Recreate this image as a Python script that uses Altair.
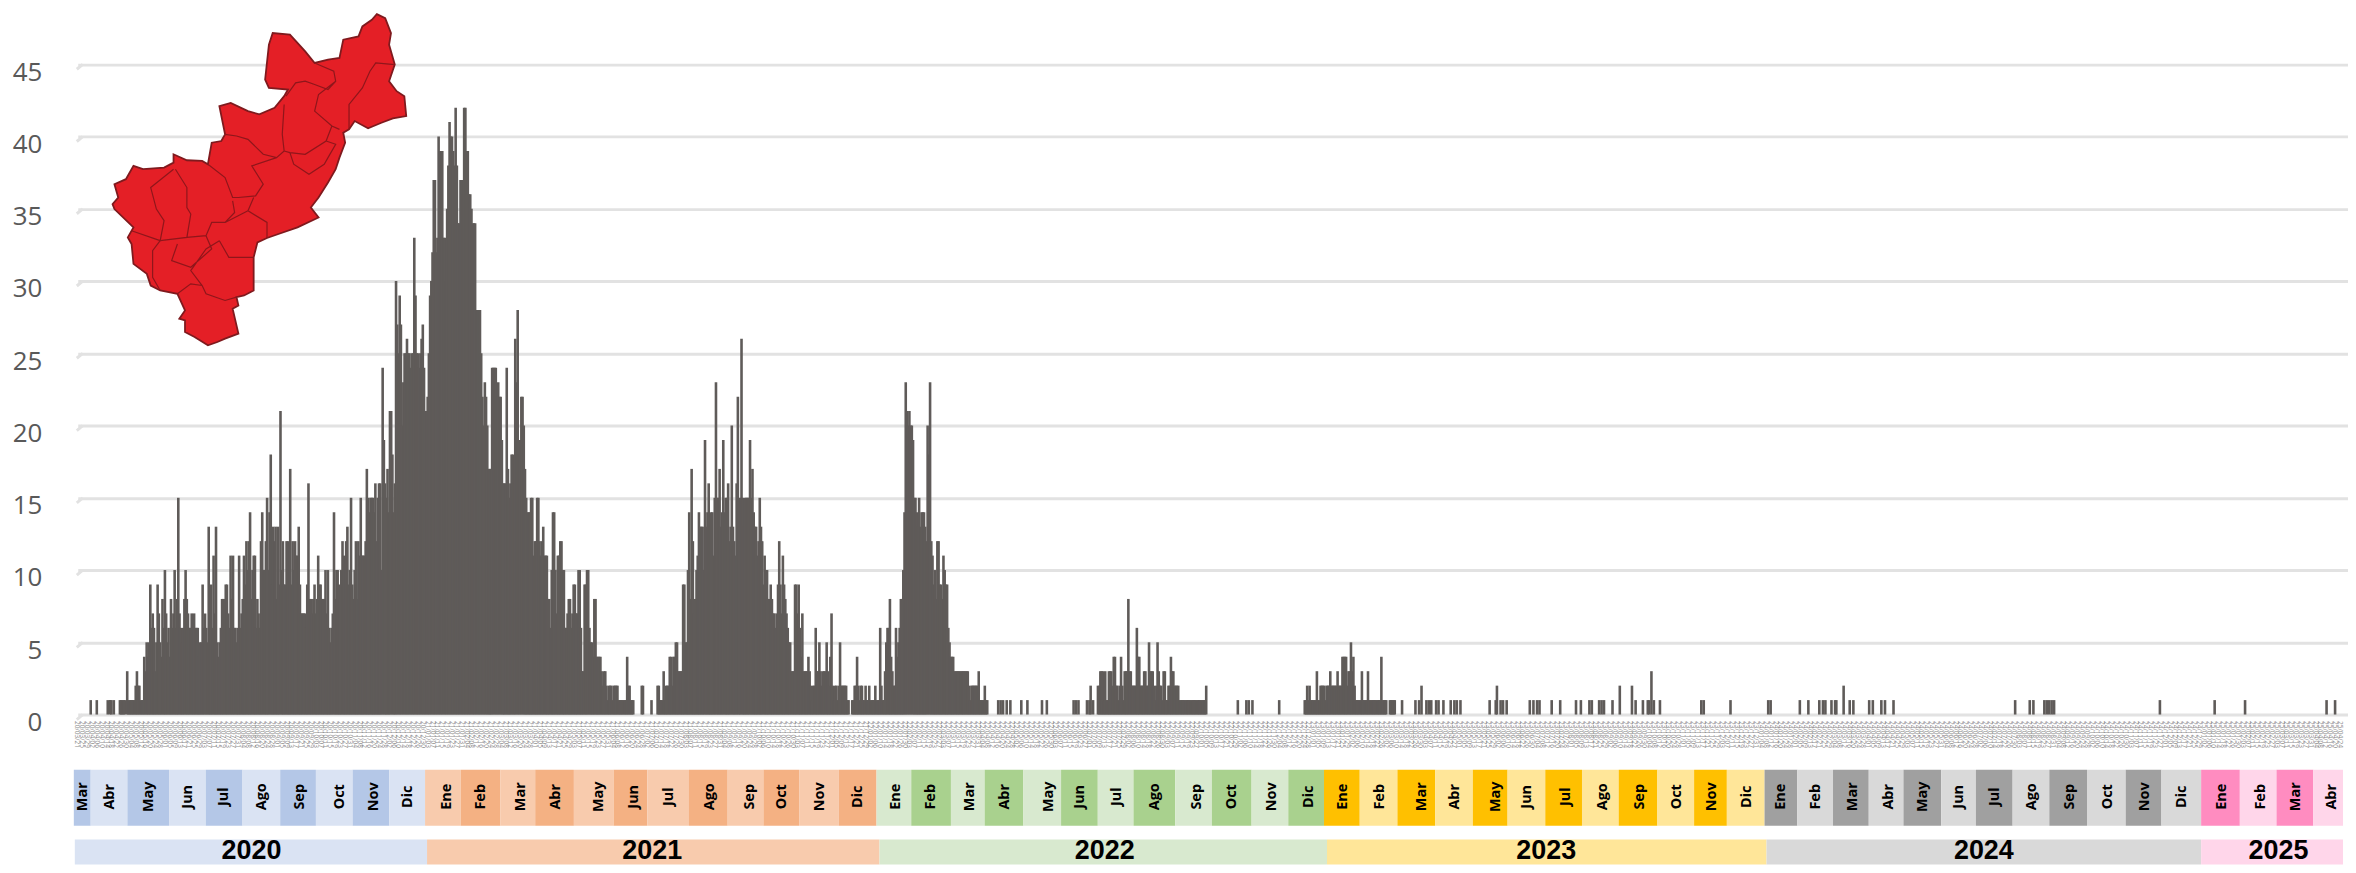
import altair as alt
import numpy as np
import pandas as pd

# ---- daily case counts (day 0 = 2020-03-23) ----
cases_000 = [0,0,0,0,0,0,0,0,0,1, 0,0,0,0,1,0,0,0,0,0, 0,0,0,1,0,1,1,0,1,0, 0,0,0,1,1,1,1,1,0,3,
             1,1,1,1,1,1,2,3,2,2, 1,1,1,4,3,5,4,5,9,6, 7,6,3,5,9,7,5,4,8,6, 10,7,5,6,4,8,6,7,10,6,
             8,15,7,6,5,6,8,10,8,7, 6,6,7,6,7,6,6,6,4,5]
cases_100 = [5,9,6,7,6,5,13,7,9,6, 11,7,13,5,4,5,6,8,8,8, 9,9,7,6,11,8,11,6,6,5, 6,11,6,7,8,11,9,12,10,12,
             14,8,10,11,11,6,8,7,6,12, 14,10,10,12,15,10,14,18,9,13, 12,13,8,13,9,21,10,12,9,9,
             12,12,10,17,9,12,10,12,11,11, 13,9,7,7,7,7,6,9,16,8, 8,7,8,9,7,8,11,9,9,8]
cases_200 = [8,8,10,7,10,6,5,6,7,14, 8,10,10,9,8,10,12,11,8,12, 13,9,10,15,9,8,10,12,8,12, 11,15,11,11,11,12,17,15,14,15,
             15,15,14,16,12,15,16,16,10,24, 19,16,15,17,14,21,21,18,14,16, 30,27,25,29,27,20,23,25,25,26,
             25,25,24,25,25,33,29,25,25,24, 25,26,27,24,21,21,22,25,29,30, 32,37,37,32,33,40,39,38,39,33]
cases_300 = [33,30,35,38,41,40,40,39,38,42, 38,34,34,37,37,36,42,42,39,39, 36,36,35,34,34,34,28,28,28,28,
             25,22,20,23,22,20,17,17,17,24, 24,24,24,22,23,22,22,19,16,16, 16,24,17,15,16,18,18,16,26,23,
             28,18,19,22,22,20,17,15,14,14, 14,15,15,11,12,12,15,15,12,11, 12,13,11,11,11,8,8,6,10,14,
             14,10,7,11,11,12,12,10,10,6]
cases_400 = [6,7,8,8,6,7,9,9,7,7, 10,10,6,3,3,9,9,10,10,6, 5,5,4,8,8,4,4,4,4,3, 2,3,3,2,1,2,2,2,1,2,
             2,2,2,1,1,1,1,1,1,1, 4,2,2,1,1,1,0,0,0,0, 0,0,2,2,0,0,0,0,0,0, 1,0,0,0,0,2,2,1,1,1,
             3,1,2,2,2,4,4,2,4,4, 5,5,3,3,3,3,9,9,5,5]
cases_500 = [10,14,8,17,12,7,8,10,11,14, 13,13,13,10,19,13,14,16,13,14, 14,11,15,23,15,15,17,13,14,19,
             14,15,15,16,12,13,20,13,12,11, 16,22,13,15,26,15,13,15,15,15, 15,19,15,17,14,13,13,11,12,15,
             13,12,9,11,10,10,8,8,9,8, 7,7,6,7,9,12,9,7,11,9, 8,7,6,5,5,3,3,3,9,9, 7,9,6,4,7,3,3,3,3,4]
cases_600 = [3,2,1,2,2,6,3,3,5,3, 2,3,3,3,5,3,2,4,7,2, 1,2,2,1,2,5,2,2,2,2, 2,1,1,0,0,1,1,2,2,4,
             2,1,2,2,1,1,2,1,1,2, 1,1,1,1,2,1,1,1,6,2, 1,1,3,5,6,6,8,4,3,2, 2,6,4,5,6,8,8,10,14,23,
             21,20,21,20,20,19,15,15,14,13, 15,13,14,14,14,13,12,20,18,23]
cases_700 = [12,11,9,10,8,12,12,9,9,8, 11,10,9,9,6,5,4,4,4,3, 3,3,3,3,3,3,3,3,3,3, 3,2,1,2,2,2,2,2,2,3,
             1,1,1,1,2,1,1,0,0,0]
dense_cases = cases_000 + cases_100 + cases_200 + cases_300 + cases_400 + cases_500 + cases_600 + cases_700

wave_2022_start = 837
wave_2022 = [2,2,3,3,3,1,3,1,1,3, 3,3,2,4,4,2,2,1,2,4, 2,1,3,3,3,8,3,3,2,2, 2,2,6,4,4,2,2,2,3,3,
             2,2,5,3,3,3,2,1,2,5, 3,2,2,1,3,3,1,1,2,2, 4,3,3,2,2,2,2,1,1,1, 1,1,1,1,1,1,1,1,1,1,
             1,1,1,1,1,1,1,1,1,2]
wave_2023_start = 1007
wave_2023 = [1,1,2,1,2,1,1,1,1,1, 3,1,1,2,2,2,2,1,2,2, 2,3,2,2,2,2,2,3,2,2, 2,4,4,4,4,2,3,3,5,3,
             4,2,1,1,1,1,1,3,1,1, 1,1,3,1,1,1,1,1,1,1, 1,1,1,4,1,1,1,1]
single_days = [755,757,759,762,765,774,779,791,795,817,819,821,828,830,833,952,959,961,964,986,
               1077,1078,1079,1080,1081,1087,1098,1101,1107,1109,1111,1115,1117,1121,1127,1130,1132,1135,
               1159,1164,1168,1170,1173,1192,1195,1198,1200,1210,1217,1230,1234,1241,1243,1249,1251,1253,
               1260,1279,1285,1289,1290,1294,1299,1333,1335,1357,1388,1390,1414,1421,1430,1433,1435,
               1440,1443,1444,1455,1458,1471,1474,1481,1484,1491,1591,1603,1606,1615,1617,1619,1621,1623,
               1710,1755,1780,1847,1854]
double_days = [831,1103,1165,1266,1276,1450]
triple_days = [1292]

# ---- date-axis tick positions, y ticks ----
date_ticks = list(range(-2, 1860, 4))
y_ticks = [0, 5, 10, 15, 20, 25, 30, 35, 40, 45]

# ---- month and year strip, positions along the timeline ----
month_names = ["Mar","Abr","May","Jun","Jul","Ago","Sep","Oct","Nov","Dic",
               "Ene","Feb","Mar","Abr","May","Jun","Jul","Ago","Sep","Oct","Nov","Dic",
               "Ene","Feb","Mar","Abr","May","Jun","Jul","Ago","Sep","Oct","Nov","Dic",
               "Ene","Feb","Mar","Abr","May","Jun","Jul","Ago","Sep","Oct","Nov","Dic",
               "Ene","Feb","Mar","Abr","May","Jun","Jul","Ago","Sep","Oct","Nov","Dic",
               "Ene","Feb","Mar","Abr"]
month_edges = [69,86,123,165,202,239,277,313,350,387,
               423,459,499,534,573,613,647,689,728,764,800,840,
               878,913,953,987,1026,1064,1101,1137,1179,1216,1256,1293,
               1329,1365,1403,1441,1479,1514,1552,1589,1626,1665,1702,1735,
               1773,1806,1842,1878,1913,1951,1986,2023,2060,2098,2137,2173,
               2213,2252,2289,2326,2356]
month_text = [78,105,145,184,220,259,297,337,372,406,
              445,479,520,555,598,634,669,710,751,783,821,859,
              898,933,972,1007,1052,1083,1120,1159,1201,1236,1277,1314,
              1348,1385,1428,1461,1502,1534,1573,1610,1647,1685,1720,1755,
              1790,1825,1862,1898,1933,1969,2005,2043,2081,2119,2156,2194,
              2234,2273,2309,2345]
month_colors = ["#b4c7e7","#dae3f3"]*5 + ["#f8cbad","#f4b183"]*6 + ["#d8e9cf","#a9d18e"]*6 + \
               ["#ffc000","#ffe699"]*6 + ["#a0a0a0","#d9d9d9"]*6 + ["#ff8cc0","#ffd6ea"]*2
year_names = ["2020","2021","2022","2023","2024","2025"]
year_edges = [70,425,881,1332,1775,2213,2356]
year_text = [248,652,1108,1553,1994,2291]
year_colors = ["#dae3f3","#f8cbad","#d8e9cf","#ffe699","#d9d9d9","#ffd6ea"]

# ---- state map glyph ----
map_outline = [(988,38),(1010,50),(1025,95),(1020,130),(1035,190),(1020,240),(1040,270),(1060,285),(1065,345),(1030,352),
               (1000,365),(965,382),(930,360),(915,385),(900,395),(905,425),(890,470),(880,505),(860,545),(835,590),
               (815,620),(835,650),(780,680),(730,700),(700,712),(675,725),(665,770),(665,870),(640,885),(620,890),
               (625,915),(610,925),(625,1000),(590,1015),(570,1025),(545,1035),(510,1010),(485,995),(485,960),(470,955),
               (485,930),(465,880),(420,870),(395,855),(385,820),(350,790),(345,730),(335,710),(350,680),(300,625),
               (295,610),(310,590),(300,550),(330,535),(350,495),(375,505),(430,500),(455,485),(455,460),(490,478),
               (530,480),(545,490),(555,425),(580,420),(590,400),(575,315),(605,305),(650,330),(680,340),(720,320),
               (745,285),(755,265),(705,260),(695,235),(705,130),(715,95),(760,100),(800,150),(825,185),(860,175),
               (890,170),(900,115),(940,105),(950,75),(975,55),(988,38)]
map_borders = [
    [(825,185),(875,210),(880,240),(860,265),(825,250),(800,240),(775,245),(750,285)],
    [(880,240),(835,280),(825,330),(870,375),(890,385)],
    [(1035,190),(985,185),(970,210),(950,260),(915,310),(915,385)],
    [(745,310),(740,400),(745,450),(725,470),(690,460),(650,415),(620,405),(590,400)],
    [(870,375),(855,420),(800,460),(760,455),(745,450)],
    [(855,420),(880,430),(860,470),(850,490),(810,520),(770,490),(760,455)],
    [(725,470),(660,495),(690,550),(670,585),(625,590),(610,590),(590,530),(545,490)],
    [(700,712),(700,665),(650,630),(665,590)],
    [(455,505),(395,560),(410,625),(430,660),(420,720),(345,690)],
    [(460,505),(490,560),(490,620),(500,640),(490,710),(420,720)],
    [(610,600),(615,635),(590,665),(555,665),(540,705),(490,710)],
    [(590,665),(650,630)],
    [(420,720),(400,750),(400,830),(420,870)],
    [(540,705),(555,745),(500,800),(450,780),(465,730)],
    [(575,720),(600,770),(665,770)],
    [(575,720),(540,745),(500,810),(530,855),(540,880),(590,900),(620,890)],
    [(465,880),(500,850),(530,855)],
]

# ---- geometry of the page ----
PX_PER_DAY = 1.226
X_DAY0 = 75.0
PLOT_LEFT = 78.0
PLOT_RIGHT = 2356.0
BASE_Y = 715.5
PX_PER_UNIT = 14.5
Y_MAX = 48.7
PLOT_TOP = BASE_Y - Y_MAX * PX_PER_UNIT
PAGE_BOTTOM = 866.0
to_day = lambda px: (np.asarray(px, dtype=float) - X_DAY0) / PX_PER_DAY
x_dom = [float(to_day(PLOT_LEFT)), float(to_day(PLOT_RIGHT))]
x_scale = alt.Scale(domain=x_dom, nice=False, zero=False)
y_scale = alt.Scale(domain=[0, Y_MAX], nice=False)

# ---- tables ----
rows = [(i, v) for i, v in enumerate(dense_cases) if v > 0]
rows += [(wave_2022_start + i, v) for i, v in enumerate(wave_2022)]
rows += [(wave_2023_start + i, v) for i, v in enumerate(wave_2023)]
rows += [(d, 1) for d in single_days] + [(d, 2) for d in double_days] + [(d, 3) for d in triple_days]
bars = pd.DataFrame(rows, columns=["day", "cases"])

months = pd.DataFrame({
    "name": month_names,
    "x": to_day(month_edges[:-1]), "x2": to_day(month_edges[1:]),
    "tx": to_day(month_text), "color": month_colors})
years = pd.DataFrame({
    "name": year_names,
    "x": to_day(year_edges[:-1]), "x2": to_day(year_edges[1:]),
    "tx": to_day(year_text), "color": year_colors})
skews = pd.DataFrame({"x": float(to_day(72)), "x2": x_dom[0],
                      "y": np.array(y_ticks) - 5 / PX_PER_UNIT, "y2": y_ticks})
stamp = pd.Timestamp("2020-03-23")
dates = pd.DataFrame({"day": date_ticks,
                      "label": [(stamp + pd.Timedelta(days=d)).strftime("%y/%m/%d") for d in date_ticks]})

bar_layer = alt.Chart(bars).mark_bar(size=2.6, color="#5f5b59").encode(
    x=alt.X("day:Q", scale=x_scale, axis=None),
    y=alt.Y("cases:Q", scale=y_scale, axis=alt.Axis(
        values=y_ticks, grid=True, gridColor="#e2e2e2", gridWidth=3, labelFont="Open Sans",
        labelFontSize=26, labelColor="#595959", labelPadding=36, labelOffset=8,
        ticks=False, domain=False, title=None)),
)

skew_layer = alt.Chart(skews).mark_rule(color="#e2e2e2", strokeWidth=3).encode(
    x=alt.X("x:Q", scale=x_scale, axis=None), x2="x2:Q",
    y=alt.Y("y:Q", scale=y_scale, title=None), y2="y2:Q")

date_labels = alt.Chart(dates).mark_text(
    angle=90, align="left", baseline="middle", font="Open Sans", fontSize=6.5, color="#8a8a8a").encode(
    x=alt.X("day:Q", scale=x_scale, axis=None), y=alt.value(722 - PLOT_TOP), text="label:N")

month_rects = alt.Chart(months).mark_rect().encode(
    x=alt.X("x:Q", scale=x_scale, axis=None), x2="x2:Q",
    y=alt.value(771 - PLOT_TOP), y2=alt.value(827 - PLOT_TOP),
    color=alt.Color("color:N", scale=None))
month_labels = alt.Chart(months).mark_text(
    angle=270, font="Open Sans", fontWeight="bold", fontSize=14.5, color="#000000").encode(
    x=alt.X("tx:Q", scale=x_scale, axis=None), y=alt.value(798 - PLOT_TOP), text="name:N")
year_rects = alt.Chart(years).mark_rect().encode(
    x=alt.X("x:Q", scale=x_scale, axis=None), x2="x2:Q",
    y=alt.value(841 - PLOT_TOP), y2=alt.value(PAGE_BOTTOM - PLOT_TOP),
    color=alt.Color("color:N", scale=None))
year_labels = alt.Chart(years).mark_text(
    font="Liberation Sans", fontWeight="bold", fontSize=27, color="#000000").encode(
    x=alt.X("tx:Q", scale=x_scale, axis=None), y=alt.value(852 - PLOT_TOP), text="name:N")

glyph = lambda pts: [[round(p[0] / 2.613, 1), round(p[1] / 3.0, 1)] for p in pts]
map_fill_feat = [{"type": "Feature", "properties": {},
                  "geometry": {"type": "Polygon", "coordinates": [glyph(map_outline)]}}]
map_line_feat = [{"type": "Feature", "properties": {},
                  "geometry": {"type": "MultiLineString",
                               "coordinates": [glyph(b) for b in map_borders]}}]
proj = alt.Projection(type="identity", scale=1, translate=[-PLOT_LEFT, -PLOT_TOP])
map_fill = alt.Chart(alt.Data(values=map_fill_feat)).mark_geoshape(
    fill="#e41f26", stroke="#7f1a1e", strokeWidth=1.8).project(**proj.to_dict())
map_line = alt.Chart(alt.Data(values=map_line_feat)).mark_geoshape(
    filled=False, stroke="#8f161b", strokeWidth=1.2).project(**proj.to_dict())

chart = alt.layer(
    bar_layer, skew_layer, date_labels, month_rects, month_labels, year_rects, year_labels, map_fill, map_line
).properties(
    width=PLOT_RIGHT - PLOT_LEFT, height=Y_MAX * PX_PER_UNIT,
    autosize=alt.AutoSizeParams(type="none"),
    padding={"left": PLOT_LEFT - 8, "top": PLOT_TOP - 8, "right": 0,
             "bottom": PAGE_BOTTOM - 8 - (PLOT_TOP - 8) - Y_MAX * PX_PER_UNIT},
    background="#ffffff",
).configure_view(stroke=None)

chart.save("out.html", embed_options={"renderer": "svg", "actions": False})
